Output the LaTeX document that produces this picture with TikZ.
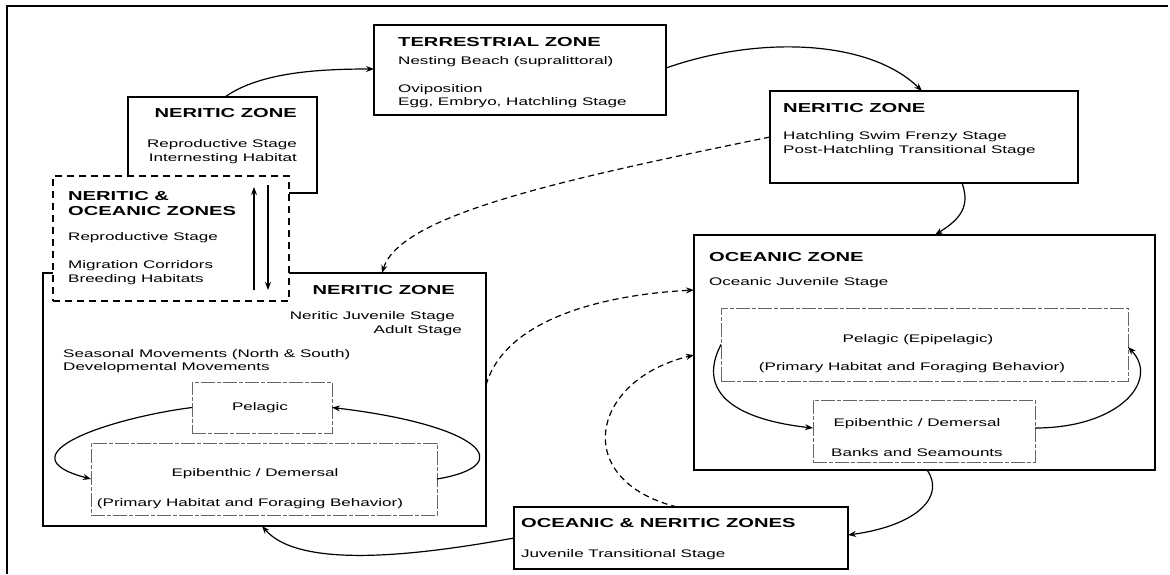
\documentclass[tikz,border=0pt]{standalone}
\usepackage{fontspec}
\setmainfont{Liberation Sans}[FakeStretch=1.55]
\usetikzlibrary{arrows.meta,calc}
\tikzset{>={Stealth[length=8pt,width=6pt]},
  zone/.style={draw,line width=1.4pt,inner sep=0pt,outer sep=0pt},
  route/.style={draw,fill=white,line width=1.5pt,dash pattern=on 7pt off 5pt,inner sep=0pt,outer sep=0pt},
  habitat/.style={draw=black!60,line width=.6pt,dash pattern=on 14pt off 2pt on 4pt off 2pt,inner sep=0pt,outer sep=0pt},
  flow/.style={line width=1.2pt,->},hop/.style={flow,dash pattern=on 6pt off 4pt},
  head/.style={font=\fontsize{13}{15}\selectfont\bfseries,inner sep=0pt},
  txt/.style={font=\fontsize{11}{13}\selectfont,inner sep=0pt}}

\begin{document}
\begin{tikzpicture}[x=1pt,y=1pt]
\useasboundingbox (0,0) rectangle (1170,-574);
\draw[line width=1.2pt] (7,-574)--(7,-6)--(1168,-6);

\node[zone,minimum width=292pt,minimum height=90pt] (terr) at (520,-70) {};
\node[zone,minimum width=189pt,minimum height=96pt] (nz1) at (222.5,-145) {};
\node[zone,minimum width=443pt,minimum height=253pt] (nz3) at (264.5,-399.5) {};
\node[route,minimum width=236pt,minimum height=125pt] (noz) at (171,-238.5) {};
\node[zone,minimum width=308pt,minimum height=92pt] (nz2) at (924,-137) {};
\node[zone,minimum width=461pt,minimum height=235pt] (ocz) at (924.5,-352.5) {};
\node[habitat,minimum width=407pt,minimum height=73pt] (ocpel) at (924.5,-344.5) {};
\node[habitat,minimum width=222pt,minimum height=62pt] (ocepi) at (924,-431) {};
\node[zone,minimum width=334pt,minimum height=62pt] (onz) at (681,-538) {};
\node[habitat,minimum width=140pt,minimum height=51pt] (nepel) at (262,-407.5) {};
\node[habitat,minimum width=346pt,minimum height=72pt] (neepi) at (264,-479) {};

\node[head,anchor=base west] (terrA) at (398,-46.5) {TERRESTRIAL ZONE};
\node[txt,anchor=base west] (terrB) at (398,-64) {Nesting Beach (supralittoral)};
\node[txt,anchor=base west] (terrC) at (398,-92) {Oviposition};
\node[txt,anchor=base west] (terrD) at (398,-105) {Egg, Embryo, Hatchling Stage};

\node[head,anchor=base east] (nz1A) at (297,-117.5) {NERITIC ZONE};
\node[txt,anchor=base east] (nz1B) at (297,-147) {Reproductive Stage};
\node[txt,anchor=base east] (nz1C) at (297,-161) {Internesting Habitat};

\node[head,anchor=base west] (nozA) at (68,-200.5) {NERITIC \&};
\node[head,anchor=base west] (nozB) at (68,-215.5) {OCEANIC ZONES};
\node[txt,anchor=base west] (nozC) at (68,-240) {Reproductive Stage};
\node[txt,anchor=base west] (nozD) at (68,-268) {Migration Corridors};
\node[txt,anchor=base west] (nozE) at (68,-282) {Breeding Habitats};
\coordinate (upA) at (254,-290);\coordinate (upB) at (254,-187);
\coordinate (dnA) at (268,-185);\coordinate (dnB) at (268,-290);
\draw[flow] (upA)--(upB);\draw[flow] (dnA)--(dnB);

\node[head,anchor=base east] (nz3A) at (455,-294.5) {NERITIC ZONE};
\node[txt,anchor=base east] (nz3B) at (455,-319) {Neritic Juvenile Stage};
\node[txt,anchor=base east] (nz3C) at (462,-333) {Adult Stage};
\node[txt,anchor=base west] (nz3D) at (63,-357) {Seasonal Movements (North \& South)};
\node[txt,anchor=base west] (nz3E) at (63,-370) {Developmental Movements};
\node[txt,anchor=base] (nepelA) at (260,-410) {Pelagic};
\node[txt,anchor=base] (neepiA) at (255,-476) {Epibenthic / Demersal};
\node[txt,anchor=base] (neepiB) at (250,-506) {(Primary Habitat and Foraging Behavior)};

\node[head,anchor=base west] (nz2A) at (783,-112.5) {NERITIC ZONE};
\node[txt,anchor=base west] (nz2B) at (783,-139) {Hatchling Swim Frenzy Stage};
\node[txt,anchor=base west] (nz2C) at (783,-153) {Post-Hatchling Transitional Stage};

\node[head,anchor=base west] (oczA) at (709,-261.5) {OCEANIC ZONE};
\node[txt,anchor=base west] (oczB) at (709,-285) {Oceanic Juvenile Stage};
\node[txt,anchor=base] (ocpelA) at (918,-342) {Pelagic (Epipelagic)};
\node[txt,anchor=base] (ocpelB) at (912,-370) {(Primary Habitat and Foraging Behavior)};
\node[txt,anchor=base] (ocepiA) at (917,-426) {Epibenthic / Demersal};
\node[txt,anchor=base] (ocepiB) at (917,-456) {Banks and Seamounts};

\node[head,anchor=base west] (onzA) at (521,-527.5) {OCEANIC \& NERITIC ZONES};
\node[txt,anchor=base west] (onzB) at (521,-557) {Juvenile Transitional Stage};

\draw[flow] ([xshift=97pt]nz1.north west) .. controls (260,-72) and (320,-69) .. ([yshift=-44pt]terr.north west);
\draw[flow] ([yshift=2pt]terr.east) .. controls (760,-35) and (870,-40) .. ([xshift=-2pt]nz2.north);
\draw[flow] ([xshift=38pt]nz2.south) .. controls (972,-210) and (955,-222) .. ([xshift=10.5pt]ocz.north);
\draw[hop] (nz2.west) .. controls (560,-180) and (400,-215) .. ([xshift=339pt]nz3.north west);
\draw[hop] ([yshift=14.5pt]nz3.east) .. controls (505,-320) and (600,-295) .. ([yshift=62.5pt]ocz.west);
\draw[hop] ([xshift=-4pt]onz.north) .. controls (570,-480) and (590,-380) .. ([yshift=-2.5pt]ocz.west);
\draw[flow] ([xshift=2.5pt]ocz.south) .. controls (945,-495) and (920,-525) .. ([yshift=3pt]onz.east);
\draw[flow] (onz.west) .. controls (420,-555) and (300,-570) .. ([xshift=-2.5pt]nz3.south);
\draw[flow] (nepel.west) .. controls (110,-418) and (0,-455) .. (neepi.west);
\draw[flow] (neepi.east) .. controls (520,-465) and (480,-425) .. (nepel.east);
\draw[flow] (ocpel.west) .. controls (695,-395) and (740,-420) .. ([yshift=3pt]ocepi.west);
\draw[flow] ([yshift=3pt]ocepi.east) .. controls (1120,-428) and (1160,-380) .. ([yshift=-2.5pt]ocpel.east);
\end{tikzpicture}
\end{document}
